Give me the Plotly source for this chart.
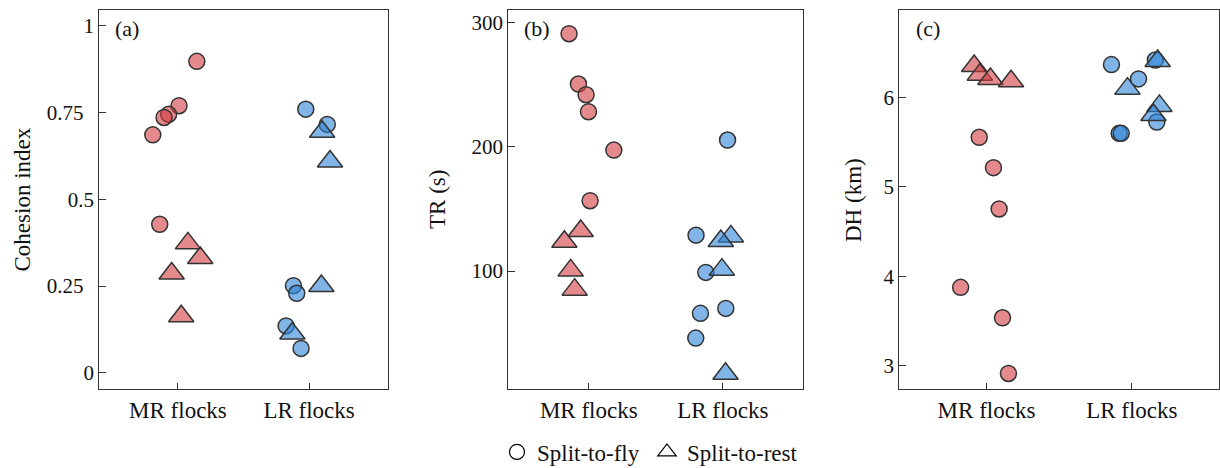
import plotly.graph_objects as go

# ---------------- data ----------------
categories = ["MR flocks", "LR flocks"]
cat_pos = [1, 2]

# Panel (a) Cohesion index
a_mr_fly_x = [1.144, 1.008, 0.929, 0.894, 0.808, 0.861]
a_mr_fly_y = [0.898, 0.770, 0.745, 0.736, 0.686, 0.428]
a_mr_rest_x = [1.076, 1.170, 0.952, 1.025]
a_mr_rest_y = [0.373, 0.331, 0.286, 0.163]
a_lr_fly_x = [1.975, 2.139, 1.881, 1.906, 1.825, 1.939]
a_lr_fly_y = [0.760, 0.716, 0.251, 0.229, 0.135, 0.070]
a_lr_rest_x = [2.100, 2.160, 2.094, 1.873]
a_lr_rest_y = [0.695, 0.609, 0.250, 0.113]

# Panel (b) TR (s)
b_mr_fly_x = [0.853, 0.923, 0.980, 0.998, 1.187, 1.010]
b_mr_fly_y = [291.1, 250.6, 242.0, 228.3, 197.4, 156.6]
b_mr_rest_x = [0.940, 0.818, 0.865, 0.895]
b_mr_rest_y = [132.2, 123.6, 100.5, 85.0]
b_lr_fly_x = [2.035, 1.800, 1.873, 1.833, 2.022, 1.798]
b_lr_fly_y = [205.5, 128.9, 98.9, 65.9, 69.9, 46.0]
b_lr_rest_x = [2.060, 1.985, 1.993, 2.020]
b_lr_rest_y = [127.9, 124.2, 101.1, 17.3]

# Panel (c) DH (km)
c_mr_fly_x = [0.950, 1.048, 1.087, 0.822, 1.110, 1.151]
c_mr_fly_y = [5.556, 5.216, 4.754, 3.877, 3.537, 2.914]
c_mr_rest_x = [0.915, 0.954, 1.027, 1.169]
c_mr_rest_y = [6.354, 6.257, 6.209, 6.183]
c_lr_fly_x = [1.860, 2.046, 2.162, 1.913, 1.927, 2.172]
c_lr_fly_y = [6.369, 6.209, 6.420, 5.600, 5.600, 5.727]
c_lr_rest_x = [1.970, 2.178, 2.190, 2.149]
c_lr_rest_y = [6.100, 6.410, 5.907, 5.806]

a_ticks = [0, 0.25, 0.5, 0.75, 1]
a_ticktext = ["0", "0.25\u2007", "0.5", "0.75\u2007", "1"]
b_ticks = [100, 200, 300]
c_ticks = [3, 4, 5, 6]

panel_labels = ["(a)", "(b)", "(c)"]
y_titles = ["Cohesion index", "TR (s)", "DH (km)"]
legend_names = ["Split-to-fly", "Split-to-rest"]

# ---------------- style ----------------
FONT = "Liberation Serif"
FS_Y = 21
FS_X = 23
FS_T = 23
RED = "rgba(210,60,65,0.6)"
BLUE = "rgba(45,130,215,0.6)"
EDGE = "#333333"
AX = "#333333"
TXT = "#111111"

fig = go.Figure()

panels = [
    (a_mr_fly_x, a_mr_fly_y, a_mr_rest_x, a_mr_rest_y, a_lr_fly_x, a_lr_fly_y, a_lr_rest_x, a_lr_rest_y),
    (b_mr_fly_x, b_mr_fly_y, b_mr_rest_x, b_mr_rest_y, b_lr_fly_x, b_lr_fly_y, b_lr_rest_x, b_lr_rest_y),
    (c_mr_fly_x, c_mr_fly_y, c_mr_rest_x, c_mr_rest_y, c_lr_fly_x, c_lr_fly_y, c_lr_rest_x, c_lr_rest_y),
]

for i, p in enumerate(panels):
    xa = "x" if i == 0 else f"x{i+1}"
    ya = "y" if i == 0 else f"y{i+1}"
    specs = [
        (p[0], p[1], "circle", 16, RED),
        (p[2], p[3], "triangle-up", 22, RED),
        (p[4], p[5], "circle", 16, BLUE),
        (p[6], p[7], "triangle-up", 22, BLUE),
    ]
    for xs, ys, sym, sz, col in specs:
        fig.add_trace(go.Scatter(
            x=xs, y=ys, mode="markers", xaxis=xa, yaxis=ya, showlegend=False,
            marker=dict(symbol=sym, size=sz, color=col, line=dict(color=EDGE, width=1.5)),
            hoverinfo="skip"))

# legend entries
fig.add_trace(go.Scatter(x=[None], y=[None], mode="markers", name=legend_names[0],
                         marker=dict(symbol="circle-open", size=15, color="black", line=dict(width=1.2))))
fig.add_trace(go.Scatter(x=[None], y=[None], mode="markers", name=legend_names[1],
                         marker=dict(symbol="triangle-up-open", size=16, color="black", line=dict(width=1.2))))

W, H = 1220, 468
TOP, BOT = 10, 389          # pixel rows of plot frame
PH = BOT - TOP
xdoms = [[99.3 / W, 387.7 / W], [508.3 / W, 803.3 / W], [899.3 / W, 1219.0 / W]]
yranges = [[-0.047, 1.046], [5, 310.2], [2.74, 6.98]]
yticks = [(a_ticks, a_ticktext), (b_ticks, [str(v) for v in b_ticks]), (c_ticks, [str(v) for v in c_ticks])]

def py(pix):
    """pixel row -> paper y (plot area spans TOP..BOT)"""
    return (BOT - pix) / PH

common_axis = dict(showline=True, linecolor=AX, linewidth=1.3, mirror=True, ticks="inside",
                   tickcolor=AX, tickwidth=1.3, showgrid=False, zeroline=False, automargin=False)

layout = dict(
    width=W, height=H,
    margin=dict(l=0, r=0, t=TOP, b=H - BOT, pad=0, autoexpand=False),
    paper_bgcolor="white", plot_bgcolor="white",
    font=dict(family=FONT, size=FS_T, color=TXT),
    showlegend=True,
    legend=dict(orientation="h", x=0.5303, xanchor="center", y=py(452), yanchor="middle",
                font=dict(family=FONT, size=FS_T, color=TXT), bgcolor="rgba(0,0,0,0)",
                itemwidth=30, entrywidth=105),
)

for i in range(3):
    xk = "xaxis" if i == 0 else f"xaxis{i+1}"
    yk = "yaxis" if i == 0 else f"yaxis{i+1}"
    layout[xk] = dict(common_axis, domain=xdoms[i], range=[0.4, 2.6], tickvals=cat_pos,
                      ticktext=categories, ticklen=6, ticklabelstandoff=0,
                      tickfont=dict(family=FONT, size=FS_X, color=TXT),
                      anchor="y" if i == 0 else f"y{i+1}")
    layout[yk] = dict(common_axis, domain=[0, 1], range=yranges[i], tickvals=yticks[i][0],
                      ticktext=yticks[i][1], ticklen=7,
                      tickfont=dict(family=FONT, size=FS_Y, color=TXT),
                      anchor="x" if i == 0 else f"x{i+1}")

fig.update_layout(**layout)

# panel labels
label_x = [113 / W, 521.5 / W, 914 / W]
for i in range(3):
    fig.add_annotation(text=panel_labels[i], xref="paper", yref="paper", x=label_x[i], y=py(28),
                       xanchor="left", yanchor="middle", showarrow=False,
                       font=dict(family=FONT, size=22, color=TXT))

# y-axis titles
title_x = [21.5 / W, 437 / W, 853 / W]
for i in range(3):
    fig.add_annotation(text=y_titles[i], xref="paper", yref="paper", x=title_x[i], y=py(200),
                       xanchor="center", yanchor="middle", textangle=-90, showarrow=False,
                       font=dict(family=FONT, size=FS_T, color=TXT))

fig.write_html("out.html")
